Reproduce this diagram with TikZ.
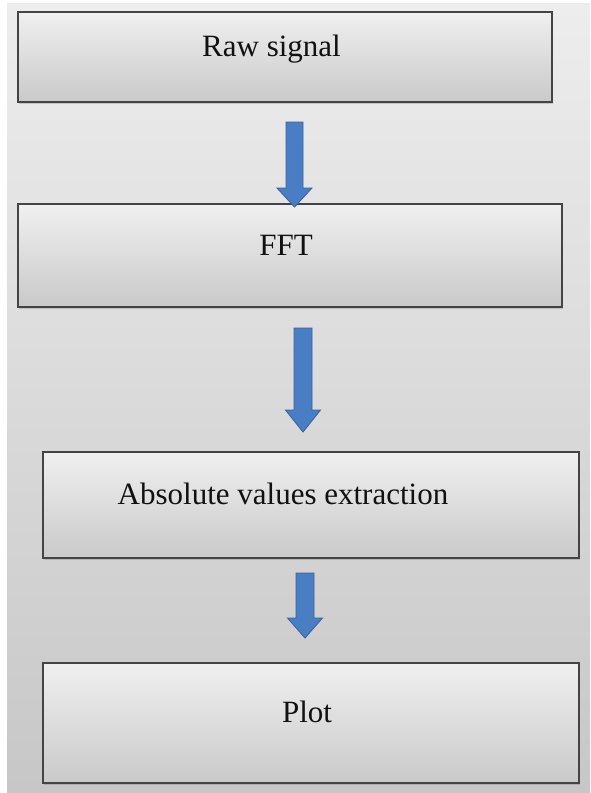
\documentclass[tikz,border=0pt]{standalone}
\usepackage{fontspec}
\setmainfont{Liberation Serif}
\usetikzlibrary{calc,shadows}
\definecolor{arrowfill}{HTML}{4A7EC4}
\definecolor{arrowedge}{HTML}{3A64A0}
\definecolor{boxedge}{HTML}{444444}
\definecolor{txt}{HTML}{111111}
\tikzset{
  flowbox/.style={draw=boxedge, line width=2.6pt, inner sep=0pt,
    top color=black!6, bottom color=black!21,
    drop shadow={shadow xshift=1pt, shadow yshift=-1.5pt, opacity=0.35}},
  flowtext/.style={anchor=base, inner sep=0pt, text=txt,
    font=\fontsize{31}{36}\selectfont},
  barrow/.style={fill=arrowfill, draw=arrowedge, line width=0.9pt, line join=miter}
}
\newcommand\blockarrow[5]{%
  \filldraw[barrow] ($(#1)+(-#3,0)$) -- ($(#2)+(-#3,-#5)$) -- ($(#2)+(-#4,-#5)$) -- (#2)
    -- ($(#2)+(#4,-#5)$) -- ($(#2)+(#3,-#5)$) -- ($(#1)+(#3,0)$) -- cycle;}
\begin{document}
\begin{tikzpicture}[x=1pt,y=-1pt]
\useasboundingbox (0,0) rectangle (590,793);
\fill[white] (0,0) rectangle (590,793);
\shade[top color=black!7, bottom color=black!22] (7,3) rectangle (590,793);
% boxes
\node[flowbox, minimum width=534pt, minimum height=90pt] (b1) at (285,57) {};
\node[flowbox, minimum width=544pt, minimum height=103pt] (b2) at (290,255.5) {};
\node[flowbox, minimum width=536pt, minimum height=106pt] (b3) at (311,505) {};
\node[flowbox, minimum width=536pt, minimum height=120pt] (b4) at (311,723) {};
% texts
\node[flowtext] (t1) at (271.5,56) {Raw signal};
\node[flowtext] (t2) at (286,255) {FFT};
\node[flowtext] (t3) at (283,504) {Absolute values extraction};
\node[flowtext] (t4) at (307,722) {Plot};
% arrows
\coordinate (a1s) at (294.5,122);
\coordinate (a1e) at (294.5,207);
\coordinate (a2s) at (303,328);
\coordinate (a2e) at (303,432);
\coordinate (a3s) at (305,573);
\coordinate (a3e) at (305,638);
\blockarrow{a1s}{a1e}{8.5}{17.5}{19}
\blockarrow{a2s}{a2e}{9}{17.5}{22}
\blockarrow{a3s}{a3e}{9}{17.5}{20}
\end{tikzpicture}
\end{document}
